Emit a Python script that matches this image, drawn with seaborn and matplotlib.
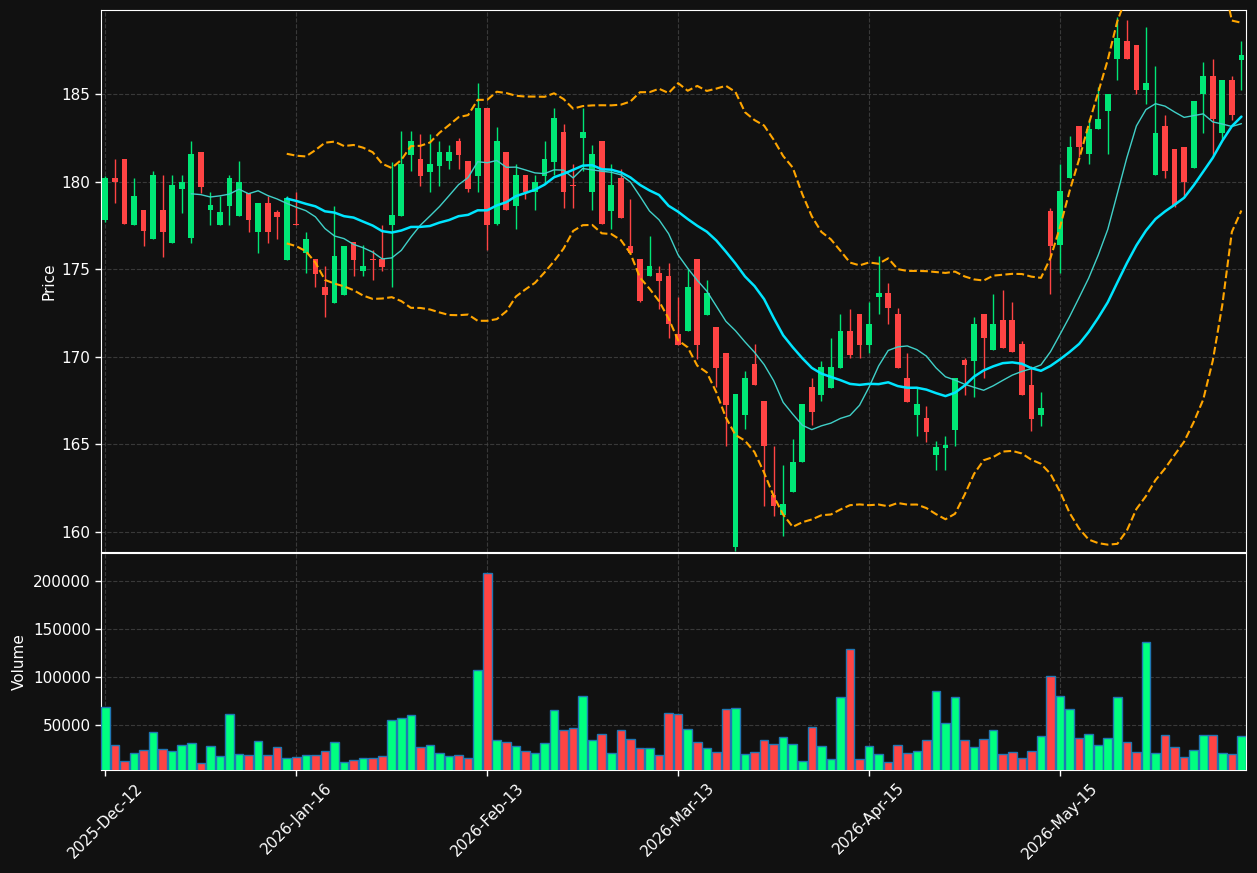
import numpy as np
import pandas as pd
import matplotlib
matplotlib.use("Agg")
import matplotlib.pyplot as plt
import seaborn as sns

opens = [177.8,180.2,181.3,177.5,178.4,176.7,178.4,176.5,179.6,176.8,181.7,178.37,177.5,178.6,178.05,179.35,177.1,178.8,178.26,175.5,
         177.6,175.9,175.6,174.0,173.05,173.5,176.55,174.9,175.6,175.6,177.5,178.05,181.5,181.3,180.55,180.9,181.2,182.3,181.15,180.3,
         184.2,177.6,181.7,178.6,180.4,179.4,180.3,181.1,182.85,179.8,182.5,179.4,182.3,178.3,180.2,176.3,175.6,174.6,174.8,174.6,
         171.3,171.45,175.6,172.4,171.7,170.2,159.15,166.7,169.6,167.45,162.1,160.95,162.3,164.0,168.25,167.8,168.2,169.35,171.5,172.45,
         170.7,173.4,173.65,172.45,168.8,166.7,166.5,164.4,164.8,165.85,169.8,169.75,172.45,170.4,172.1,172.1,170.75,168.4,166.7,178.3,
         176.4,180.2,183.2,181.6,183.0,184.0,187.0,188.0,187.8,185.2,180.4,183.2,181.85,182.0,180.8,185.0,186.0,182.75,185.8,186.95]
closes = [180.19,180.0,177.6,179.2,177.2,180.4,177.1,179.8,180.0,181.55,179.7,178.65,178.26,180.2,180.0,177.8,178.8,177.1,178.0,179.05,
          177.5,176.7,174.75,173.5,175.75,176.3,175.5,175.2,175.5,175.15,178.1,181.0,182.3,180.3,181.0,181.7,181.7,181.5,179.55,184.2,
          177.5,182.3,178.4,180.4,179.4,180.0,181.3,183.65,179.4,179.75,182.85,181.55,177.6,179.8,177.95,175.9,173.2,175.2,174.35,171.85,
          170.7,174.0,170.7,173.65,169.35,167.25,167.85,168.8,168.4,164.9,161.5,161.6,164.0,167.3,166.85,169.4,169.4,171.5,170.1,170.7,
          171.9,173.65,172.8,169.35,167.4,167.3,165.7,164.85,164.95,168.8,169.55,171.9,171.1,171.9,170.5,170.3,167.8,166.45,167.1,176.3,
          179.45,182.0,182.0,183.0,183.6,185.0,188.2,187.0,185.2,185.65,182.8,180.6,178.65,179.95,184.6,186.0,183.6,185.8,183.8,187.25]
highs = [180.3,181.3,181.3,180.2,178.4,180.6,180.4,180.4,180.4,182.3,181.7,179.4,179.2,180.4,181.2,179.35,178.8,179.2,178.4,179.2,
         179.4,177.1,175.6,175.2,178.6,176.3,176.55,176.4,176.1,177.5,181.1,182.9,182.9,182.7,182.7,182.3,182.1,182.5,181.15,185.6,
         184.2,183.1,181.7,181.0,180.4,180.4,182.3,184.2,183.3,181.0,184.2,182.1,182.3,181.0,180.7,179.0,175.6,176.9,175.2,175.35,
         173.4,175.0,175.6,174.4,171.7,170.2,167.85,169.2,170.75,167.45,164.9,163.8,165.3,167.3,168.8,169.75,171.1,172.45,172.7,172.45,
         173.1,175.75,174.2,172.8,170.2,168.2,167.2,165.2,165.5,168.8,169.95,172.3,172.45,173.6,173.8,173.1,170.9,169.5,168.0,178.5,
         181.0,182.6,183.2,183.6,185.4,185.0,189.4,189.2,187.8,188.8,186.6,183.8,181.85,182.0,184.6,186.8,187.0,185.8,186.0,188.0]
lows = [177.7,178.8,177.6,177.5,176.3,176.7,175.7,176.5,178.2,176.5,179.35,177.5,177.5,177.5,178.05,177.1,175.9,176.5,176.7,175.5,
        177.5,174.8,174.0,172.3,173.05,173.5,174.6,174.6,174.4,174.9,174.0,178.05,180.6,179.75,179.4,179.75,180.7,180.7,179.4,179.4,
        176.1,177.5,178.4,177.3,179.0,178.4,179.9,180.4,178.5,178.5,180.6,178.4,177.6,177.3,177.95,175.9,173.1,174.6,172.7,171.1,
        170.7,171.45,169.85,172.4,168.3,164.9,158.9,165.9,168.4,161.5,160.9,159.8,162.3,164.0,166.1,167.45,168.2,169.35,169.95,169.95,
        170.2,172.45,171.9,169.35,167.4,165.5,165.15,163.55,163.55,164.9,167.8,167.7,168.8,170.4,170.5,170.3,167.8,165.75,166.05,173.6,
        174.8,180.2,181.4,181.0,183.0,181.6,185.8,187.0,185.0,184.4,180.4,180.2,178.55,179.1,180.8,182.8,181.5,182.45,183.5,185.2]
volumes = [68700,29200,12500,20800,24000,42700,25700,22900,29200,31200,10400,28100,17700,61500,19800,18700,33300,18700,27100,16300,
           16700,18700,18700,22900,32300,11500,13500,15600,15600,17700,55200,57300,60400,27100,29200,20800,17700,18700,15600,107300,
           208300,34400,32300,28100,22900,20800,31200,65600,44800,46900,80200,34400,40600,20800,44800,35400,26000,26000,18700,62500,
           61500,45800,32300,26000,21900,66700,67700,19800,21900,34400,30200,37500,30200,12500,47900,28100,14600,79200,129200,14600,
           28100,19800,11500,29200,20800,22900,34400,85400,52100,79200,34400,27100,35400,44800,19800,21900,15600,22900,38500,101000,
           80200,66700,36500,40600,29200,36500,79200,32300,21900,136500,20800,39600,27100,16700,24000,39600,39600,20800,19800,38500]
tick_pos = [0, 20, 40, 60, 80, 100]
tick_labels = ["2025-Dec-12", "2026-Jan-16", "2026-Feb-13", "2026-Mar-13", "2026-Apr-15", "2026-May-15"]

df = pd.DataFrame({"o": opens, "c": closes, "h": highs, "l": lows, "v": volumes})
df["i"] = np.arange(len(df))
df["ma10"] = df["c"].rolling(10).mean()
df["ma20"] = df["c"].rolling(20).mean()
sd = df["c"].rolling(20).std()
df["bbu"] = df["ma20"] + 2 * sd
df["bbl"] = df["ma20"] - 2 * sd

BG = "#111111"
GREEN_C = "#00e676"
GREEN_V = "#00ff80"
RED = "#ff4444"

sns.set_theme(style="dark")
plt.rcParams.update({"figure.facecolor": BG, "axes.facecolor": BG, "axes.edgecolor": "white",
                     "text.color": "white", "axes.labelcolor": "white",
                     "xtick.color": "white", "ytick.color": "white",
                     "patch.edgecolor": "none"})
plt.rcParams["font.family"] = ["DejaVu Sans"]

fig = plt.figure(figsize=(12.57, 8.73), dpi=100)
ax = fig.add_axes([0.0804, 0.3677, 0.911, 0.621])
axv = fig.add_axes([0.0804, 0.118, 0.911, 0.2486], sharex=ax)

up = df["c"] >= df["o"]
ccol = np.where(up, GREEN_C, RED)
vcol = np.where(up, GREEN_V, RED)

ax.vlines(df["i"], df["l"], df["h"], colors=ccol, linewidth=1, zorder=2)
body_lo = np.minimum(df["o"], df["c"])
body_h = np.maximum(np.abs(df["c"] - df["o"]), 0.08)
ax.bar(df["i"], body_h, bottom=body_lo, width=0.6, color=ccol, edgecolor=ccol, linewidth=0, zorder=3)

sns.lineplot(data=df, x="i", y="ma10", ax=ax, color="#40d0c8", linewidth=1, zorder=4)
sns.lineplot(data=df, x="i", y="ma20", ax=ax, color="#00e5ff", linewidth=1.8, zorder=4)
sns.lineplot(data=df, x="i", y="bbu", ax=ax, color="orange", linewidth=1.5, linestyle="--", zorder=4)
sns.lineplot(data=df, x="i", y="bbl", ax=ax, color="orange", linewidth=1.5, linestyle="--", zorder=4)

axv.bar(df["i"], df["v"], width=0.9, color=vcol, edgecolor="#1f77b4", linewidth=1, zorder=3)

for a in (ax, axv):
    a.grid(True, color="#444444", linestyle="--", linewidth=0.8, alpha=0.8)
    a.set_axisbelow(True)
    for s in a.spines.values():
        s.set_color("white")
        s.set_linewidth(0.8)
    a.tick_params(labelsize=11, colors="white", length=4, width=1, bottom=True, left=True)

ax.set_xlim(-0.45, 119.5)
ax.set_ylim(158.86, 189.8)
ax.set_yticks([160, 165, 170, 175, 180, 185])
ax.set_ylabel("Price", fontsize=11)
ax.set_xlabel("")
ax.tick_params(axis="x", labelbottom=False)

axv.set_ylim(3440, 229500)
axv.set_yticks([50000, 100000, 150000, 200000])
axv.set_yticklabels(["50000", "100000", "150000", "200000"])
axv.set_ylabel("Volume", fontsize=11)
axv.set_xlabel("")
axv.set_xticks(tick_pos)
axv.set_xticklabels(tick_labels, rotation=45, ha="center")

fig.savefig("out.png", dpi=100, facecolor=BG)
